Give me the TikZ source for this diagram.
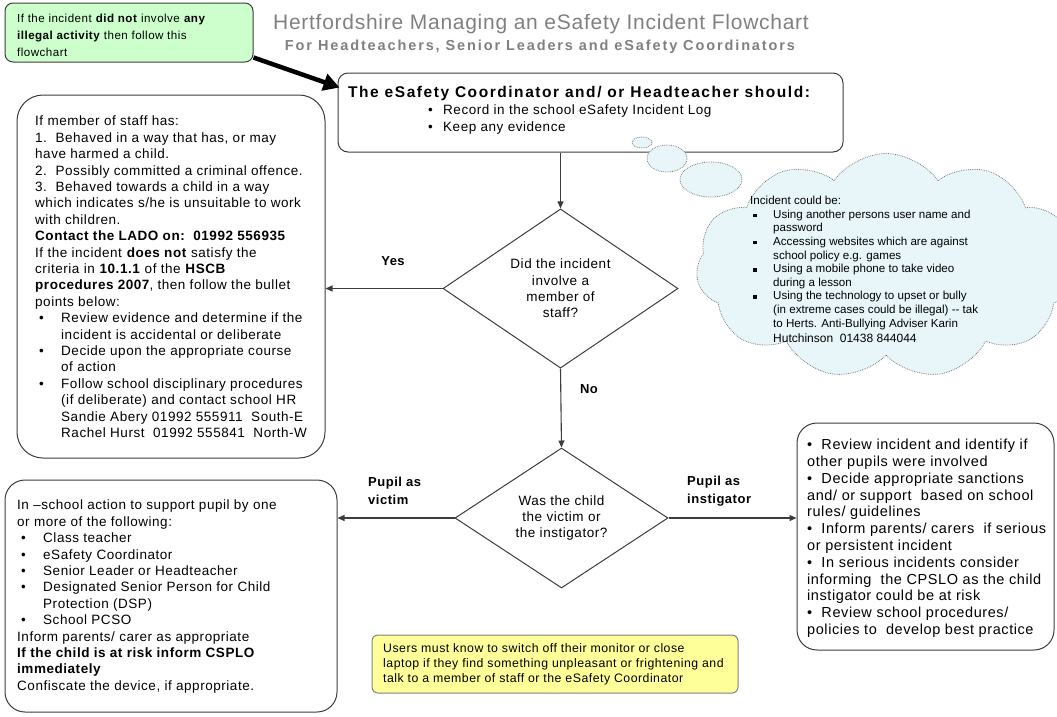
\documentclass[tikz,border=0pt]{standalone}
\usepackage{fontspec}
\setmainfont{Liberation Sans}[LetterSpace=4]
\newfontfamily\headfont{Liberation Sans}[LetterSpace=3.5]
\newfontfamily\subheadfont{Liberation Sans}[LetterSpace=13]
\newfontfamily\boxheadfont{Liberation Sans}[LetterSpace=10]
\newfontfamily\narrowfont{Liberation Sans}
\usetikzlibrary{positioning,shapes.geometric,shapes.symbols,arrows.meta}

\definecolor{boxline}{RGB}{60,60,60}
\definecolor{notegreen}{RGB}{204,255,204}
\definecolor{noteyellow}{RGB}{255,255,153}
\definecolor{cloudblue}{RGB}{232,246,250}
\definecolor{titlegray}{RGB}{128,128,128}

\newcommand{\bodyfont}{\fontsize{13.5}{16.4}\selectfont}
\newcommand{\dotitem}{\hspace*{4pt}\makebox[22pt][l]{\textbullet}}
\newcommand{\dotcont}{\hspace*{26pt}}
\newcommand{\sqitem}{\hspace*{3pt}\makebox[20pt][l]{\rule[1pt]{3.5pt}{3.5pt}}}
\newcommand{\sqcont}{\hspace*{23pt}}

\tikzstyle{roundbox} = [rectangle, draw=boxline, line width=1pt, fill=white]
\tikzstyle{decision} = [diamond, draw=boxline, line width=1pt, inner sep=0pt, align=center, font=\bodyfont]
\tikzstyle{boxtext} = [anchor=north west, inner sep=0pt, align=left, font=\bodyfont]
\tikzstyle{answer} = [inner sep=0pt, align=left, font=\bfseries\fontsize{13}{18}\selectfont]
\tikzstyle{arrow} = [line width=1.1pt, draw=boxline, -{Triangle[length=7pt,width=6pt]}]
\tikzstyle{bigarrow} = [line width=4.5pt, -{Triangle[length=16pt,width=17pt]}]
\tikzstyle{bubble} = [draw=gray, densely dotted, line width=0.8pt, fill=cloudblue, inner sep=0pt]

\begin{document}
\begin{tikzpicture}[x=1pt,y=-1pt]
		\useasboundingbox (0,0) rectangle (1057,716);

		% Heading
		\node (title) [font=\headfont\fontsize{21}{24}\selectfont, text=titlegray] at (541,24) {Hertfordshire Managing an eSafety Incident Flowchart};
		\node (subtitle) [font=\subheadfont\bfseries\fontsize{14.5}{17}\selectfont, text=titlegray] at (540,47) {For Headteachers, Senior Leaders and eSafety Coordinators};

		% Nodes
		\node (intro) [roundbox, rounded corners=8pt, fill=notegreen, minimum width=248pt, minimum height=59pt] at (129,32.5) {};
		\node (intro-text) [boxtext, font=\fontsize{11.6}{17}\selectfont] at (17,13.5) {If the incident \textbf{did not} involve \textbf{any}\\ \textbf{illegal activity} then follow this\\ flowchart};

		\node (coord) [roundbox, rounded corners=10pt, minimum width=505pt, minimum height=79pt] at (590.5,112.5) {};
		\node (coord-text) [boxtext] at (348,86) {{\boxheadfont\bfseries\fontsize{15.5}{17}\selectfont The eSafety Coordinator and/ or Headteacher should:}\\[1pt]
			\hspace*{80pt}\makebox[15pt][l]{\textbullet}Record in the school eSafety Incident Log\\
			\hspace*{80pt}\makebox[15pt][l]{\textbullet}Keep any evidence};

		\node (cloud) [cloud, bubble, cloud puffs=11, cloud puff arc=110, cloud ignores aspect, minimum width=380pt, minimum height=225pt] at (886,266) {};
		\node (bubble-s) [ellipse, bubble, minimum width=20pt, minimum height=11pt] at (642,142.5) {};
		\node (bubble-m) [ellipse, bubble, minimum width=40pt, minimum height=27pt] at (667,158.5) {};
		\node (bubble-l) [ellipse, bubble, minimum width=62pt, minimum height=35pt] at (711,179.5) {};
		\node (cloud-text) [boxtext, font=\narrowfont\fontsize{11.6}{13.6}\selectfont] at (750,196) {Incident could be:\\
			\sqitem Using another persons user name and\\
			\sqcont password\\
			\sqitem Accessing websites which are against\\
			\sqcont school policy e.g. games\\
			\sqitem Using a mobile phone to take video\\
			\sqcont during a lesson\\
			\sqitem Using the technology to upset or bully\\
			\sqcont (in extreme cases could be illegal) -- tak\\
			\sqcont to Herts. Anti-Bullying Adviser Karin\\[2pt]
			\sqcont {\fontsize{12}{14}\selectfont Hutchinson\ \ 01438 844044}};

		\node (staff) [roundbox, rounded corners=26pt, minimum width=308pt, minimum height=363pt] at (171,276.5) {};
		\node (staff-text) [boxtext] at (35,116) {If member of staff has:\\
			1.\ \ Behaved in a way that has, or may\\
			have harmed a child.\\
			2.\ \ Possibly committed a criminal offence.\\
			3.\ \ Behaved towards a child in a way\\
			which indicates s/he is unsuitable to work\\
			with children.\\
			\textbf{Contact the LADO on:\ \ 01992 556935}\\
			If the incident \textbf{does not} satisfy the\\
			criteria in \textbf{10.1.1} of the \textbf{HSCB}\\
			\textbf{procedures 2007}, then follow the bullet\\
			points below:\\
			\dotitem Review evidence and determine if the\\
			\dotcont incident is accidental or deliberate\\
			\dotitem Decide upon the appropriate course\\
			\dotcont of action\\
			\dotitem Follow school disciplinary procedures\\
			\dotcont (if deliberate) and contact school HR\\
			\dotcont Sandie Abery 01992 555911\ \ South-E\\
			\dotcont Rachel Hurst\ \ 01992 555841\ \ North-W};

		\node (q1) [decision, minimum width=235pt, minimum height=153pt] at (560.5,288.5) {Did the incident\\ involve a\\ member of\\ staff?};
		\node (q2) [decision, minimum width=213pt, minimum height=140pt] at (561.5,518) {Was the child\\ the victim or\\ the instigator?};

		\node (victim) [roundbox, rounded corners=20pt, minimum width=332pt, minimum height=232pt] at (171,596) {};
		\node (victim-text) [boxtext] at (17,500) {In --school action to support pupil by one\\
			or more of the following:\\
			\dotitem Class teacher\\
			\dotitem eSafety Coordinator\\
			\dotitem Senior Leader or Headteacher\\
			\dotitem Designated Senior Person for Child\\
			\dotcont Protection (DSP)\\
			\dotitem School PCSO\\
			Inform parents/ carer as appropriate\\
			\textbf{If the child is at risk inform CSPLO}\\
			\textbf{immediately}\\
			Confiscate the device, if appropriate.};

		\node (instig) [roundbox, rounded corners=20pt, minimum width=257pt, minimum height=227pt] at (925.5,536.5) {};
		\node (instig-text) [boxtext, font=\fontsize{14.5}{16.8}\selectfont] at (807,439) {\textbullet\ \ Review incident and identify if\\
			other pupils were involved\\
			\textbullet\ \ Decide appropriate sanctions\\
			and/ or support\ \ based on school\\
			rules/ guidelines\\
			\textbullet\ \ Inform parents/ carers\ \ if serious\\
			or persistent incident\\
			\textbullet\ \ In serious incidents consider\\
			informing\ \ the CPSLO as the child\\
			instigator could be at risk\\
			\textbullet\ \ Review school procedures/\\
			policies to\ \ develop best practice};

		\node (notice) [roundbox, rounded corners=6pt, fill=noteyellow, draw=gray, minimum width=366pt, minimum height=58pt] at (555,664) {};
		\node (notice-text) [boxtext, font=\fontsize{12.3}{15}\selectfont] at (383,643) {Users must know to switch off their monitor or close\\
			laptop if they find something unpleasant or frightening and\\
			talk to a member of staff or the eSafety Coordinator};

		% Labels
		\node (yes) [answer] at (393,261) {Yes};
		\node (no) [answer] at (589,389) {No};
		\node (victim-label) [answer, anchor=west] at (368,491) {Pupil as\\ victim};
		\node (instig-label) [answer, anchor=west] at (687,491) {Pupil as\\ instigator};

		% Arrows
		\draw [bigarrow] ([shift={(0,-5)}]intro.south east) -- ([shift={(2,15)}]coord.north west);
		\draw [arrow] (coord.south -| q1.north) -- (q1.north);
		\draw [arrow] (q1.west) -- (q1.west -| staff.east);
		\draw [arrow] (q1.south) -- (q2.north);
		\draw [arrow] (q2.west) -- (q2.west -| victim.east);
		\draw [arrow] (q2.east) -- (q2.east -| instig.west);
	\end{tikzpicture}
\end{document}
